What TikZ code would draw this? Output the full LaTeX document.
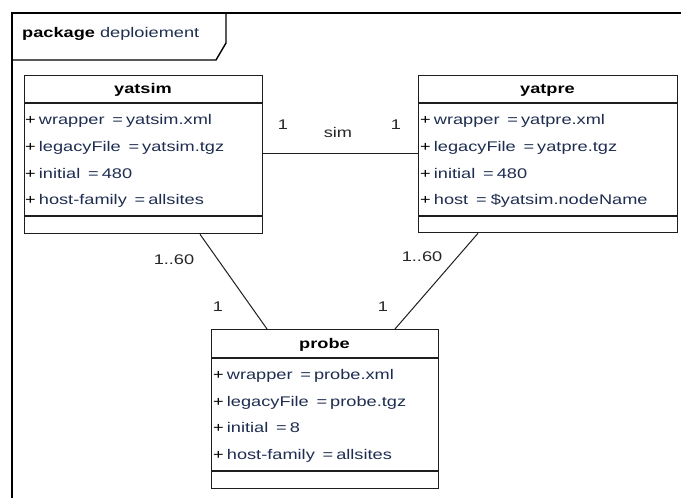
\documentclass[tikz,border=0pt]{standalone}
\usepackage{fontspec}
\setmainfont{Liberation Sans}[FakeStretch=1.3]
\usetikzlibrary{calc}
\definecolor{attr}{RGB}{30,45,80}
\definecolor{edge}{RGB}{30,30,30}
\tikzset{
  classbox/.style={draw=edge, line width=1.3pt, fill=white, rectangle, inner sep=0pt, anchor=north west},
  sep/.style={draw=edge, line width=1.2pt},
  frameline/.style={draw=black, line width=1.4pt},
  title/.style={font=\fontsize{14}{16}\selectfont\bfseries, inner sep=0pt, anchor=mid},
  attrtext/.style={font=\fontsize{14}{16}\selectfont, inner sep=0pt, anchor=mid west, text=attr},
  assoc/.style={draw=edge, line width=1pt},
  mult/.style={font=\fontsize{14}{16}\selectfont, inner sep=0pt, anchor=mid, text=black!85}
}
\newcommand{\attrline}[2]{{\color{black}+}\hspace{0.22em}#1\hspace{0.55em}=\hspace{0.22em}#2}
\begin{document}
\begin{tikzpicture}[x=1pt,y=-1pt]
\useasboundingbox (0,0) rectangle (681,498);
% package frame
\draw[frameline] (12,505) -- (12,13) -- (690,13);
\draw[frameline] (226,13) -- (226,43) -- (216,60) -- (12,60);
\node[inner sep=0pt, anchor=mid west, font=\fontsize{14}{16}\selectfont] (pkg) at (22,35) {\textbf{package} {\color{attr}deploiement}};

% yatsim
\node[classbox, minimum width=238pt, minimum height=158pt] (yatsim) at (24,75) {};
\draw[sep] (24,103) -- (262,103);
\draw[sep] (24,216) -- (262,216);
\node[title] (yatsimT) at (143,91) {yatsim};
\node[attrtext] (ys1) at (25,122) {\attrline{wrapper}{yatsim.xml}};
\node[attrtext] (ys2) at (25,148.7) {\attrline{legacyFile}{yatsim.tgz}};
\node[attrtext] (ys3) at (25,175.4) {\attrline{initial}{480}};
\node[attrtext] (ys4) at (25,202) {\attrline{host-family}{allsites}};

% yatpre
\node[classbox, minimum width=259pt, minimum height=157pt] (yatpre) at (418,75) {};
\draw[sep] (418,103) -- (677,103);
\draw[sep] (418,216) -- (677,216);
\node[title] (yatpreT) at (547.5,91) {yatpre};
\node[attrtext] (yp1) at (420,122) {\attrline{wrapper}{yatpre.xml}};
\node[attrtext] (yp2) at (420,148.7) {\attrline{legacyFile}{yatpre.tgz}};
\node[attrtext] (yp3) at (420,175.4) {\attrline{initial}{480}};
\node[attrtext] (yp4) at (420,202) {{\color{black}+}\hspace{0.22em}host\hspace{0.55em}=\hspace{0.3em}\$yatsim.nodeName};

% probe
\node[classbox, minimum width=227pt, minimum height=159pt] (probe) at (211,329) {};
\draw[sep] (211,358) -- (438,358);
\draw[sep] (211,471) -- (438,471);
\node[title] (probeT) at (324.5,346) {probe};
\node[attrtext] (pr1) at (213,377) {\attrline{wrapper}{probe.xml}};
\node[attrtext] (pr2) at (213,403.5) {\attrline{legacyFile}{probe.tgz}};
\node[attrtext] (pr3) at (213,430) {\attrline{initial}{8}};
\node[attrtext] (pr4) at (213,457) {\attrline{host-family}{allsites}};

% associations
\draw[assoc] ([yshift=-78pt]yatsim.north east) -- ([yshift=-78pt]yatpre.north west);
\draw[assoc] ([xshift=176pt]yatsim.south west) -- ([xshift=56pt]probe.north west);
\draw[assoc] ([xshift=60pt]yatpre.south west) -- ([xshift=184pt]probe.north west);

\node[mult] (m1) at (283,127) {1};
\node[mult] (msim) at (338,135) {sim};
\node[mult] (m2) at (396,127) {1};
\node[mult] (m3) at (174,262) {1..60};
\node[mult] (m4) at (218,309) {1};
\node[mult] (m5) at (422,259) {1..60};
\node[mult] (m6) at (383,309) {1};
\end{tikzpicture}
\end{document}
